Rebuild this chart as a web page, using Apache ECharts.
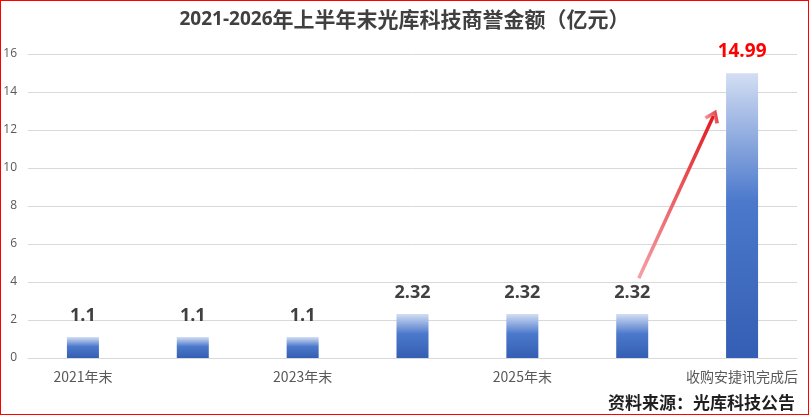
<!DOCTYPE html>
<html>
<head>
<meta charset="utf-8">
<script src="https://cdn.jsdelivr.net/npm/echarts@6/dist/echarts.min.js"></script>
<style>
html,body{margin:0;padding:0;background:#fff;}
#wrap{position:relative;width:809px;height:415px;}
#c{position:absolute;left:0;top:0;width:809px;height:415px;}
#frame{position:absolute;left:0;top:0;width:809px;height:415px;box-sizing:border-box;border:1px solid #ff0000;pointer-events:none;}
</style>
</head>
<body>
<div id="wrap"><div id="c"></div><div id="frame"></div></div>
<script>
const categories = ['2021年末', '2022年末', '2023年末', '2024年末', '2025年末', '2026年上半年末', '收购安捷讯完成后'];
const goodwill = [1.1, 1.1, 1.1, 2.32, 2.32, 2.32, 14.99];
const yTicks = {min: 0, max: 16, interval: 2};
// arrow endpoints in data units: [category position, value]
const arrowFrom = [5.06, 4.2];
const arrowTo = [5.74, 12.75];

const chart = echarts.init(document.getElementById('c'));
const barGrad = new echarts.graphic.LinearGradient(0, 0, 0, 1, [
  {offset: 0, color: '#d3def3'},
  {offset: 0.45, color: '#4c79cc'},
  {offset: 1, color: '#345eb3'}
]);
chart.setOption({
  animation: false,
  backgroundColor: '#ffffff',
  title: {
    text: '{a|2021-2026}{b|年上半年末光库科技商誉金额（亿元）}',
    left: 'center',
    top: 4,
    textStyle: {
      rich: {
        a: {fontFamily: 'Open Sans', fontWeight: 'bold', fontSize: 19, color: '#404040'},
        b: {fontFamily: 'Noto Sans CJK SC', fontWeight: 'bold', fontSize: 21, color: '#404040'}
      }
    }
  },
  graphic: [{
    type: 'text',
    right: 14,
    bottom: 4,
    style: {text: '资料来源：光库科技公告', font: 'bold 17px "Noto Sans CJK SC"', fill: '#1f1f1f'}
  }],
  grid: {left: 28, right: 12, top: 54, bottom: 57},
  xAxis: [{
    type: 'category',
    data: categories,
    axisLine: {lineStyle: {color: '#d9d9d9'}},
    axisTick: {show: false},
    axisLabel: {interval: 1, color: '#595959', fontSize: 14, margin: 12, fontFamily: 'Noto Sans CJK SC'}
  }, {
    type: 'value', min: -0.5, max: 6.5, show: false
  }],
  yAxis: {
    type: 'value',
    min: yTicks.min, max: yTicks.max, interval: yTicks.interval,
    axisLine: {show: false},
    axisTick: {show: false},
    splitLine: {lineStyle: {color: '#d9d9d9'}},
    axisLabel: {color: '#595959', fontSize: 12, margin: 11, fontFamily: 'Open Sans'}
  },
  series: [{
    type: 'bar',
    data: goodwill.map((v, i) => i === goodwill.length - 1 ? {
      value: v,
      label: {color: '#ff0000', fontSize: 19}
    } : v),
    barWidth: 32,
    itemStyle: {color: barGrad},
    label: {
      show: true, position: 'top', distance: 12,
      fontFamily: 'Open Sans', fontWeight: 'bold', fontSize: 18, color: '#404040'
    }
  }, {
    type: 'line',
    xAxisIndex: 1,
    data: [],
    silent: true,
    markLine: {
      silent: true,
      symbol: ['none', 'path://M5,0 L10,8.2 L8.1,9.8 L5,4.4 L1.9,9.8 L0,8.2 Z'],
      symbolSize: [16, 13],
      label: {show: false},
      lineStyle: {
        type: 'solid', width: 3.5,
        color: new echarts.graphic.LinearGradient(0, 1, 1, 0, [
          {offset: 0, color: '#f4a4aa'},
          {offset: 1, color: '#e0181e'}
        ])
      },
      data: [[
        {coord: arrowFrom},
        {coord: arrowTo, itemStyle: {color: '#e0181e'}}
      ]]
    }
  }]
});
</script>
</body>
</html>
